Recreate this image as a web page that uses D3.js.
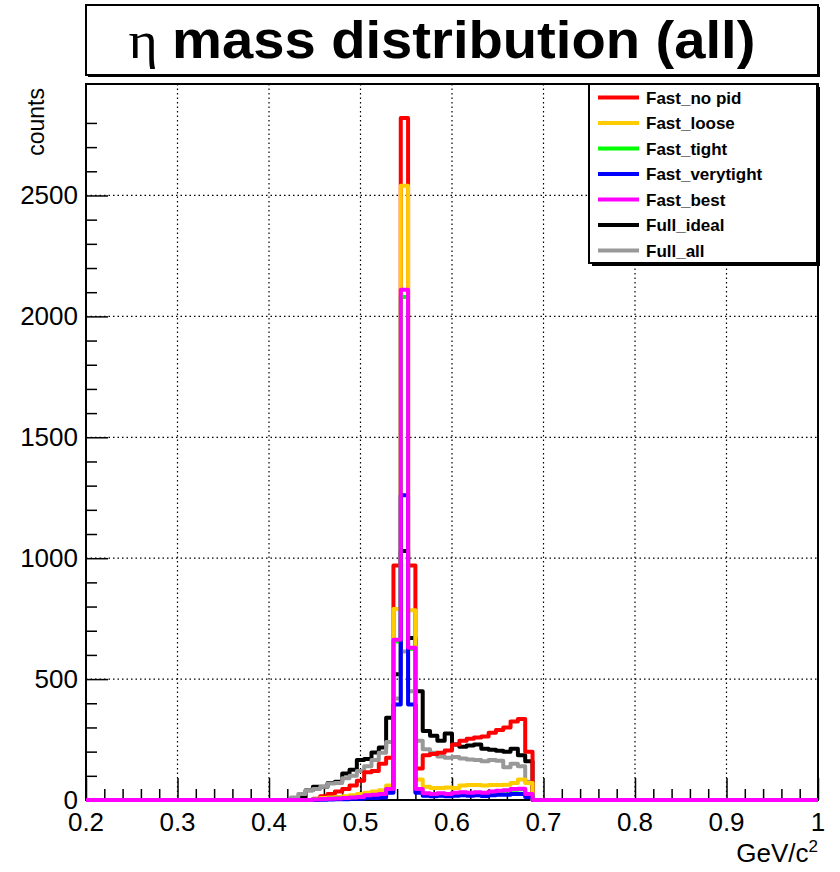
<!DOCTYPE html>
<html>
<head>
<meta charset="utf-8">
<script src="https://cdn.jsdelivr.net/npm/d3@7/dist/d3.min.js"></script>
<style>
body { margin: 0; background: #fff; }
svg { font-family: "Liberation Sans", Arial, Helvetica, sans-serif; }
</style>
</head>
<body>
<div id="chart"></div>
<script>
// histogram binning: 100 bins of 0.008 from 0.2 to 1.0, non zero content only in bins 28..60
var binLow = 0.2, binWidth = 0.008, nBins = 100, firstBin = 28;

var seriesNames = ["Fast_no pid", "Fast_loose", "Fast_tight", "Fast_verytight", "Fast_best", "Full_ideal", "Full_all"];
var seriesColors = ["#ff0000", "#ffcc00", "#00ff00", "#0000ff", "#ff00ff", "#000000", "#999999"];

// counts for bins 28..60 (0.424 .. 0.688)
var fastNoPid     = [0, 0, 0, 5, 15, 25, 35, 45, 60, 80, 115, 120, 150, 175, 970, 2820, 970, 130, 185, 190, 195, 205, 230, 245, 253, 258, 263, 278, 290, 300, 325, 335, 200];
var fastLoose     = [0, 0, 0, 3, 8, 10, 12, 15, 20, 25, 30, 35, 40, 60, 790, 2540, 785, 85, 55, 50, 50, 52, 50, 60, 62, 62, 60, 62, 62, 63, 70, 85, 70];
var fastTight     = [0, 0, 0, 2, 4, 5, 6, 7, 9, 11, 18, 20, 22, 42, 655, 2080, 625, 40, 26, 24, 26, 24, 28, 30, 28, 30, 28, 33, 35, 38, 42, 44, 22];
var fastVerytight = [0, 0, 0, 0, 1, 2, 3, 3, 5, 5, 8, 8, 10, 30, 395, 1260, 395, 30, 18, 16, 18, 15, 18, 20, 18, 20, 17, 20, 22, 22, 25, 25, 12];
var fastBest      = [0, 0, 0, 2, 4, 5, 6, 8, 10, 12, 20, 22, 25, 45, 663, 2110, 630, 45, 28, 25, 28, 25, 30, 32, 30, 32, 30, 35, 38, 40, 45, 47, 25];
var fullIdeal     = [0, 10, 40, 55, 55, 70, 75, 110, 125, 165, 170, 196, 217, 340, 520, 1030, 670, 450, 285, 266, 245, 275, 230, 220, 225, 230, 212, 208, 204, 200, 212, 185, 160];
var fullAll       = [10, 25, 40, 45, 55, 68, 70, 90, 100, 120, 140, 165, 195, 240, 420, 614, 450, 245, 210, 195, 180, 175, 178, 172, 168, 165, 160, 165, 162, 135, 150, 140, 75];

var seriesData = [fastNoPid, fastLoose, fastTight, fastVerytight, fastBest, fullIdeal, fullAll];
var drawOrder = [5, 6, 0, 1, 2, 3, 4];

var xTicks = [0.2, 0.3, 0.4, 0.5, 0.6, 0.7, 0.8, 0.9, 1.0];
var yTicks = [0, 500, 1000, 1500, 2000, 2500];
var yMax = 2961;

var W = 840, H = 872;
var frame = {left: 86, right: 818, top: 84, bottom: 800};

var svg = d3.select("#chart").append("svg")
    .attr("width", W)
    .attr("height", H);

var x = d3.scaleLinear()
    .domain([binLow, binLow + nBins * binWidth])
    .range([frame.left, frame.right]);

var y = d3.scaleLinear()
    .domain([0, yMax])
    .range([frame.bottom, frame.top]);

// title box
svg.append("rect")
    .attr("x", 88).attr("y", 7).attr("width", 732).attr("height", 70)
    .attr("fill", "#000");
svg.append("rect")
    .attr("x", 86).attr("y", 5).attr("width", 732).attr("height", 70)
    .attr("fill", "#fff").attr("stroke", "#000").attr("stroke-width", 2);

var title = svg.append("text")
    .attr("transform", "translate(442,58) scale(1.08,1)")
    .attr("text-anchor", "middle")
    .style("font-size", "52px");
title.append("tspan")
    .style("font-family", "'Liberation Serif', 'DejaVu Serif', serif")
    .text("η ");
title.append("tspan")
    .style("font-weight", "bold")
    .text("mass distribution (all)");

// grid
var grid = svg.append("g").attr("class", "grid");
grid.selectAll("line.gx")
    .data(xTicks.slice(1, -1))
    .enter().append("line")
    .attr("class", "gx")
    .attr("x1", function(d) { return x(d) }).attr("x2", function(d) { return x(d) })
    .attr("y1", frame.top).attr("y2", frame.bottom)
    .attr("stroke", "#000").attr("stroke-width", 1.2)
    .attr("stroke-dasharray", "1.5,3");
grid.selectAll("line.gy")
    .data(yTicks.slice(1))
    .enter().append("line")
    .attr("class", "gy")
    .attr("y1", function(d) { return y(d) }).attr("y2", function(d) { return y(d) })
    .attr("x1", frame.left).attr("x2", frame.right)
    .attr("stroke", "#000").attr("stroke-width", 1.2)
    .attr("stroke-dasharray", "1.5,3");

// frame
svg.append("rect")
    .attr("x", frame.left).attr("y", frame.top)
    .attr("width", frame.right - frame.left).attr("height", frame.bottom - frame.top)
    .attr("fill", "none").attr("stroke", "#000").attr("stroke-width", 2);

// axes (ROOT style ticks inside the frame)
var xAxis = d3.axisTop(x)
    .tickValues(d3.range(0, 41).map(function(i) { return +(0.2 + i * 0.02).toFixed(2) }))
    .tickFormat("")
    .tickSizeOuter(0)
    .tickSizeInner(11);
var gx = svg.append("g")
    .attr("transform", "translate(0," + frame.bottom + ")")
    .call(xAxis);
gx.select(".domain").remove();
gx.selectAll(".tick line")
    .attr("stroke-width", 1.5)
    .attr("y2", function(d) { return Math.round(d * 100) % 10 === 0 ? -22 : -11 });

var yAxis = d3.axisRight(y)
    .tickValues(d3.range(0, 29).map(function(i) { return i * 100 }))
    .tickFormat("")
    .tickSizeOuter(0)
    .tickSizeInner(11);
var gy = svg.append("g")
    .attr("transform", "translate(" + frame.left + ",0)")
    .call(yAxis);
gy.select(".domain").remove();
gy.selectAll(".tick line")
    .attr("stroke-width", 1.5)
    .attr("x2", function(d) { return d % 500 === 0 ? 22 : 11 });

// tick labels
svg.append("g").selectAll("text")
    .data(xTicks)
    .enter().append("text")
    .attr("x", function(d) { return x(d) })
    .attr("y", 831)
    .attr("text-anchor", "middle")
    .style("font-size", "26px")
    .text(function(d) { return d3.format("~g")(d) });

svg.append("g").selectAll("text")
    .data(yTicks)
    .enter().append("text")
    .attr("x", 78)
    .attr("y", function(d) { return y(d) })
    .attr("dy", "0.34em")
    .attr("text-anchor", "end")
    .style("font-size", "26px")
    .text(function(d) { return d });

// axis titles
svg.append("text")
    .attr("transform", "translate(44,88) rotate(-90)")
    .attr("text-anchor", "end")
    .style("font-size", "23px")
    .text("counts");

var xt = svg.append("text")
    .attr("x", 818).attr("y", 862)
    .attr("text-anchor", "end")
    .style("font-size", "26px");
xt.append("tspan").text("GeV/c");
xt.append("tspan").attr("dy", -10).style("font-size", "17px").text("2");

// histograms as step lines
function fullBins(vals) {
    var counts = d3.range(nBins).map(function() { return 0 });
    vals.forEach(function(v, i) { counts[firstBin + i] = v });
    var pts = counts.map(function(c, i) { return {e: binLow + i * binWidth, c: c} });
    pts.push({e: binLow + nBins * binWidth, c: counts[nBins - 1]});
    return pts;
}

var line = d3.line()
    .x(function(d) { return x(d.e) })
    .y(function(d) { return y(d.c) })
    .curve(d3.curveStepAfter);

var hists = svg.append("g");
drawOrder.forEach(function(s) {
    hists.append("path")
        .datum(fullBins(seriesData[s]))
        .attr("d", line)
        .attr("fill", "none")
        .attr("stroke", seriesColors[s])
        .attr("stroke-width", 4)
        .attr("stroke-linejoin", "round");
});

// legend
var leg = {x: 589, y: 84, w: 228, h: 179};
svg.append("rect")
    .attr("x", leg.x + 3).attr("y", leg.y + 3).attr("width", leg.w).attr("height", leg.h)
    .attr("fill", "#000");
svg.append("rect")
    .attr("x", leg.x).attr("y", leg.y).attr("width", leg.w).attr("height", leg.h)
    .attr("fill", "#fff").attr("stroke", "#000").attr("stroke-width", 2);

var rows = svg.append("g").selectAll("g")
    .data(seriesNames)
    .enter().append("g")
    .attr("transform", function(d, i) { return "translate(" + leg.x + "," + (97.5 + i * 25.5) + ")" });
rows.append("line")
    .attr("x1", 9).attr("x2", 50)
    .attr("stroke", function(d, i) { return seriesColors[i] })
    .attr("stroke-width", 4);
rows.append("text")
    .attr("x", 57)
    .attr("dy", "0.36em")
    .style("font-size", "17px")
    .style("font-weight", "bold")
    .text(function(d) { return d });
</script>
</body>
</html>
